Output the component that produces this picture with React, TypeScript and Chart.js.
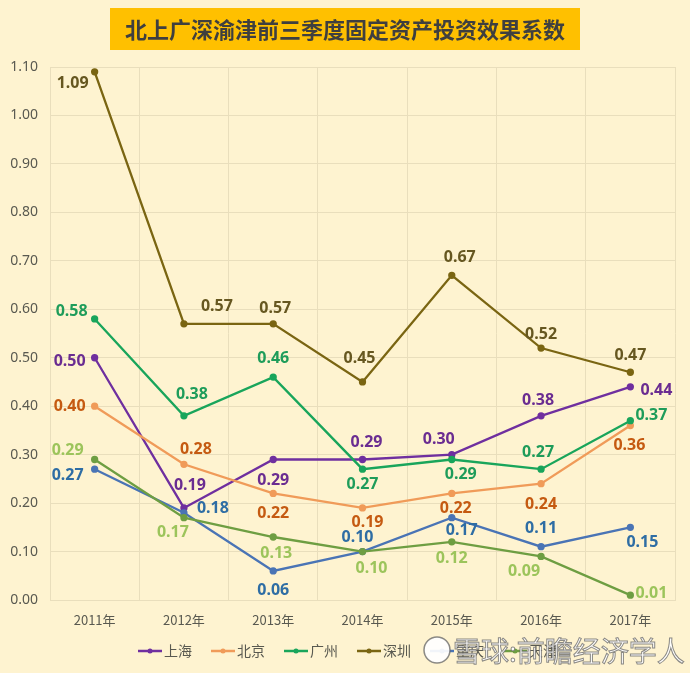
import React, { useEffect, useRef } from 'react';
import { Chart, registerables } from 'chart.js';
Chart.register(...registerables);

const TITLE = '北上广深渝津前三季度固定资产投资效果系数';
const WATERMARK = '雪球:前瞻经济学人';
const YEARS = ['2011年', '2012年', '2013年', '2014年', '2015年', '2016年', '2017年'];
const SERIES_NAMES = ['上海', '北京', '广州', '深圳', '重庆', '天津'];
const SHANGHAI = [0.5, 0.19, 0.29, 0.29, 0.3, 0.38, 0.44];
const BEIJING = [0.4, 0.28, 0.22, 0.19, 0.22, 0.24, 0.36];
const GUANGZHOU = [0.58, 0.38, 0.46, 0.27, 0.29, 0.27, 0.37];
const SHENZHEN = [1.09, 0.57, 0.57, 0.45, 0.67, 0.52, 0.47];
const CHONGQING = [0.27, 0.18, 0.06, 0.1, 0.17, 0.11, 0.15];
const TIANJIN = [0.29, 0.17, 0.13, 0.1, 0.12, 0.09, 0.01];
const Y_MIN = 0;
const Y_MAX = 1.1;
const Y_STEP = 0.1;

// styling
const LINE_COLORS = ['#6F2F9F', '#F09B59', '#19A55B', '#7A6512', '#4A74B5', '#6E9E42'];
const LABEL_COLORS = ['#6A2C91', '#C55A11', '#1E9C5A', '#665720', '#2E6DA4', '#9CC45B'];
// label centre offsets from each point (px)
const LABEL_OFFSETS = [
  [[-25, 4], [6, -22], [0, 21], [4, -17], [-13, -15], [-3, -15], [26, 4]],
  [[-25, 0], [12, -15], [0, 20], [5, 15], [4, 15], [0, 21], [-1, 20]],
  [[-23, -8], [8, -21], [0, -19], [0, 15], [9, 15], [-3, -17], [21, -5]],
  [[-22, 12], [33, -17], [2, -15], [-3, -24], [8, -18], [0, -14], [0, -17]],
  [[-27, 6], [29, -4], [0, 20], [-5, -14], [10, 13], [0, -18], [12, 15]],
  [[-27, -9], [-11, 15], [3, 16], [9, 17], [0, 17], [-17, 15], [21, -2]],
];
const BG = '#FEF3D0';
const GRID = '#E9DEBC';
const TEXT = '#595950';

export default function App() {
  const ref = useRef<HTMLCanvasElement>(null);
  useEffect(() => {
    const canvas = ref.current!;
    const all = [SHANGHAI, BEIJING, GUANGZHOU, SHENZHEN, CHONGQING, TIANJIN];

    const bgPlugin = {
      id: 'bg',
      beforeDraw(chart: any) {
        const c = chart.ctx;
        c.save();
        c.fillStyle = BG;
        c.fillRect(0, 0, chart.width, chart.height);
        c.fillStyle = '#FFC000';
        c.fillRect(110, 8, 470, 42);
        c.fillStyle = '#3F3F3F';
        c.font = 'bold 22px "Noto Sans CJK SC"';
        c.textAlign = 'center';
        c.textBaseline = 'middle';
        c.fillText(TITLE, 345, 30);
        c.restore();
      },
    };

    const labelPlugin = {
      id: 'vlabels',
      afterDatasetsDraw(chart: any) {
        const c = chart.ctx;
        c.save();
        c.font = 'bold 16px "Noto Sans"';
        c.textAlign = 'center';
        c.textBaseline = 'middle';
        chart.data.datasets.forEach((ds: any, di: number) => {
          const meta = chart.getDatasetMeta(di);
          c.fillStyle = LABEL_COLORS[di];
          meta.data.forEach((pt: any, i: number) => {
            const [dx, dy] = LABEL_OFFSETS[di][i];
            c.fillText(Number(ds.data[i]).toFixed(2), pt.x + dx, pt.y + dy);
          });
        });
        c.restore();
      },
    };

    const legendPlugin = {
      id: 'customLegend',
      afterDraw(chart: any) {
        const c = chart.ctx;
        c.save();
        c.font = '14px "Noto Sans CJK SC"';
        c.textBaseline = 'middle';
        c.textAlign = 'left';
        const y = 651;
        let x = 138;
        SERIES_NAMES.forEach((name, i) => {
          c.strokeStyle = LINE_COLORS[i];
          c.lineWidth = 2.5;
          c.beginPath();
          c.moveTo(x, y);
          c.lineTo(x + 24, y);
          c.stroke();
          c.fillStyle = LINE_COLORS[i];
          c.beginPath();
          c.arc(x + 12, y, 2.5, 0, Math.PI * 2);
          c.fill();
          c.fillStyle = TEXT;
          c.fillText(name, x + 26, y);
          x += 73;
        });
        // watermark
        c.strokeStyle = 'rgba(100,100,100,0.75)';
        c.fillStyle = 'rgba(255,255,255,0.92)';
        c.lineWidth = 1.5;
        c.beginPath();
        c.arc(437, 650, 13, 0, Math.PI * 2);
        c.fill();
        c.stroke();
        c.font = '28px "Noto Sans CJK SC"';
        c.lineWidth = 1;
        c.fillText(WATERMARK, 453, 651);
        c.strokeText(WATERMARK, 453, 651);
        c.restore();
      },
    };

    const chart = new Chart(canvas, {
      type: 'line',
      data: {
        labels: YEARS,
        datasets: all.map((d, i) => ({
          label: SERIES_NAMES[i],
          data: d,
          borderColor: LINE_COLORS[i],
          backgroundColor: LINE_COLORS[i],
          pointBackgroundColor: LINE_COLORS[i],
          pointBorderColor: LINE_COLORS[i],
          pointRadius: 2.5,
          borderWidth: 2.3,
          tension: 0,
          order: -i,
        })),
      },
      options: {
        responsive: false,
        animation: false,
        devicePixelRatio: 1,
        events: [],
        layout: { padding: { top: 67, left: 0, right: 15, bottom: 45 } },
        plugins: { legend: { display: false }, title: { display: false }, tooltip: { enabled: false } },
        scales: {
          x: {
            offset: true,
            grid: { offset: true, color: GRID, drawTicks: false },
            border: { color: GRID },
            ticks: { color: TEXT, font: { size: 13, family: '"Noto Sans CJK SC"' }, padding: 12 },
            afterFit: (s: any) => { s.height = 28; },
          },
          y: {
            min: Y_MIN,
            max: Y_MAX,
            grid: { color: GRID, drawTicks: false },
            border: { color: GRID },
            ticks: {
              stepSize: Y_STEP,
              color: TEXT,
              font: { size: 14, family: '"Noto Sans"' },
              padding: 12,
              callback: (v: any) => Number(v).toFixed(2),
            },
            afterFit: (s: any) => { s.width = 50; },
          },
        },
      },
      plugins: [bgPlugin, labelPlugin, legendPlugin],
    });
    return () => chart.destroy();
  }, []);

  return (
    <div style={{ position: 'fixed', left: 0, top: 0, width: 690, height: 673 }}>
      <canvas ref={ref} width={690} height={673} style={{ display: 'block', width: 690, height: 673 }} />
    </div>
  );
}
